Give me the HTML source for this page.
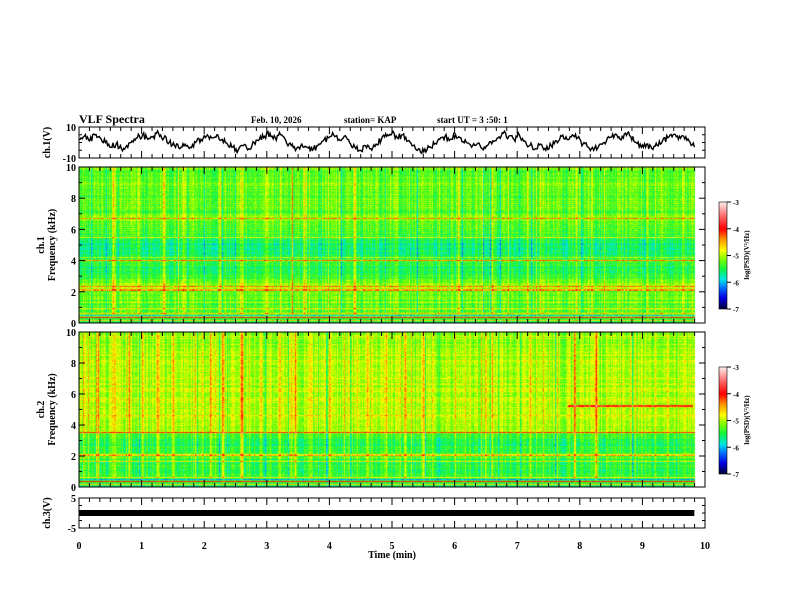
<!DOCTYPE html>
<html><head><meta charset="utf-8">
<style>
html,body{margin:0;padding:0;background:#fff;}
#root{position:relative;width:792px;height:612px;overflow:hidden;font-family:"Liberation Serif",serif;}
canvas{position:absolute;}
svg{position:absolute;left:0;top:0;}
</style></head>
<body>
<div id="root">
<canvas id="spec1" width="626" height="156" style="left:79px;top:167px;width:626px;height:156px"></canvas>
<canvas id="spec2" width="626" height="155" style="left:79px;top:332px;width:626px;height:155px"></canvas>
<canvas id="cb1" width="8" height="107" style="left:719px;top:202px;width:8px;height:107px"></canvas>
<canvas id="cb2" width="8" height="107" style="left:719px;top:367px;width:8px;height:107px"></canvas>
<svg id="svg" width="792" height="612" xmlns="http://www.w3.org/2000/svg"></svg>
</div>
<script>
// ---- data ----
const timeTicks = [0,1,2,3,4,5,6,7,8,9,10];
const freqTicks = [0,2,4,6,8,10];
const cbTicks = [-3,-4,-5,-6,-7];
const dataEndMin = 9.83;
const waveValues = [2,4,1,5,3,0,-3,-1,-4,-2,1,3,5,2,4,6,3,0,-2,-4,-1,-3,0,2,4,3,5,2,-1,-3,-5,-2,-4,0,2,4,6,3,5,1,-2,-4,-1,-3,-5,-2,1,3,5,2,4,0,-3,-5,-2,-4,-1,2,4,6,3,5,1,-2,-4,-6,-3,-1,2,4,2,5,3,0,-3,-1,-4,-2,1,3,6,4,2,5,1,-2,-4,-1,-5,-2,1,4,2,5,3,-1,-3,-5,-2,0,3,5,2,6,4,0,-3,-1,-4,-2,1,3,5,2,4,1,-3];
const ch3Value = 0;
const spec1Freq  = [0,0.3,0.5,1,1.5,2,2.2,2.4,2.6,3,3.5,4,4.5,5,5.5,6,6.5,6.7,7,8,9,10];
const spec1Level = [-5.6,-5.3,-5.2,-5.3,-5.3,-5.2,-5.0,-5.0,-5.2,-5.5,-5.55,-5.4,-5.65,-5.7,-5.4,-5.35,-5.3,-5.0,-5.3,-5.25,-5.25,-5.3];
const spec1LineFreq = [0.15,0.3,0.45,0.6,0.9,1.3,2.1,2.3,4.0,4.2,5.5,6.7];
const spec1LineAmp  = [0.9,1.4,-0.8,0.6,0.5,0.4,0.7,0.7,0.9,0.5,0.6,0.5];
const spec1SpikeTime = [0.55,0.95,1.35,1.7,2.25,2.6,3.0,3.4,3.6,4.4,5.05,5.75,6.05,6.6,7.15,7.4,8.2,9.0,9.3,9.65];
const spec1SpikeAmp  = [0.8,0.5,0.6,0.4,0.6,0.8,0.5,0.7,0.5,0.6,0.5,0.4,0.5,0.7,0.5,0.4,0.6,0.4,0.5,0.4];
const spec2Freq  = [0,0.3,0.6,1,1.5,2,2.5,3,3.4,3.6,4,5,6,7,8,9,10];
const spec2Level = [-5.6,-5.3,-5.5,-5.5,-5.5,-5.3,-5.5,-5.5,-5.4,-5.0,-5.0,-5.0,-5.0,-5.05,-5.05,-5.05,-5.05];
const spec2LineFreq = [0.15,0.3,0.45,0.6,1.6,2.0,2.1,3.5,4.6];
const spec2LineAmp  = [0.9,1.4,-0.8,0.6,0.5,0.8,0.6,1.0,0.4];
const spec2SpikeTime = [0.3,0.55,0.8,1.0,1.25,1.5,1.85,2.1,2.3,2.6,2.9,3.2,3.45,3.7,4.0,4.3,4.6,4.9,5.2,5.5,6.0,6.6,7.2,7.9,8.25,8.8,9.4];
const spec2SpikeAmp  = [0.5,0.8,0.5,0.6,0.5,0.7,0.5,0.6,0.7,0.8,0.5,0.6,0.7,0.5,0.6,0.5,0.5,0.6,0.5,0.4,0.4,0.6,0.4,0.7,0.5,0.4,0.4];
const spec2Band = {t0:7.8,t1:9.8,f:5.2,amp:1.0};

// ---- geometry ----
const X0=79,X1=705;
const xs = t => X0 + t/10*(X1-X0);
const NS='http://www.w3.org/2000/svg';
const svg=document.getElementById('svg');
function el(tag,attrs,parent){const e=document.createElementNS(NS,tag);for(const k in attrs)e.setAttribute(k,attrs[k]);(parent||svg).appendChild(e);return e;}
function txt(x,y,s,size,anchor,rot){const t=el('text',{x:x,y:y,'font-size':size,'font-weight':'bold','font-family':'Liberation Serif, serif','text-anchor':anchor||'start'});if(rot)t.setAttribute('transform',`rotate(${rot} ${x} ${y})`);t.textContent=s;return t;}

// ---- colormap ----
const cmapV=[-7,-6.6,-6.2,-5.9,-5.5,-5.1,-4.8,-4.4,-4.0,-3.5,-3.0];
const cmapC=[[0,0,60],[0,0,230],[0,120,255],[0,230,230],[20,245,60],[140,255,0],[255,255,0],[255,150,0],[255,0,0],[255,110,110],[255,235,235]];
function cmap(v){if(v<=cmapV[0])return cmapC[0];for(let i=1;i<cmapV.length;i++){if(v<=cmapV[i]){const f=(v-cmapV[i-1])/(cmapV[i]-cmapV[i-1]);const a=cmapC[i-1],b=cmapC[i];return [a[0]+(b[0]-a[0])*f,a[1]+(b[1]-a[1])*f,a[2]+(b[2]-a[2])*f];}}return cmapC[cmapC.length-1];}
function hash(a,b){let h=(a*374761393+b*668265263)|0;h=(h^(h>>>13))*1274126177|0;h=h^(h>>>16);return ((h>>>0)%10000)/10000;}
function interp(xa,ya,x){for(let i=1;i<xa.length;i++){if(x<=xa[i]){const f=(x-xa[i-1])/(xa[i]-xa[i-1]);return ya[i-1]+(ya[i]-ya[i-1])*f;}}return ya[ya.length-1];}

function drawSpec(id,fq,lv,lf,la,st,sa,band,seed){
  const c=document.getElementById(id),ctx=c.getContext('2d'),W=c.width,H=c.height;
  const img=ctx.createImageData(W,H);
  const rowOff=[];for(let y=0;y<H;y++)rowOff.push((hash(y,seed*3)-0.5)*0.3);
  for(let x=0;x<W;x++){
    const t=x/(W)*10;
    if(t>dataEndMin){for(let y=0;y<H;y++){const k=(y*W+x)*4;img.data[k]=img.data[k+1]=img.data[k+2]=img.data[k+3]=255;}continue;}
    let colOff=(hash(x,seed)-0.5)*0.4;
    const hc=hash(x+5,seed+9);
    if(hc>0.93)colOff+=0.35; else if(hc<0.05)colOff-=0.4;
    let spike=0;for(let i=0;i<st.length;i++){const d=Math.abs(t-st[i]);if(d<0.009)spike=Math.max(spike,sa[i]);else if(d<0.03)spike=Math.max(spike,sa[i]*0.35);}
    for(let y=0;y<H;y++){
      const f=10*(1-y/(H-1));
      let v=interp(fq,lv,f)+colOff*(f>0.6?1:0.3)+rowOff[y];
      for(let i=0;i<lf.length;i++){if(Math.abs(f-lf[i])<0.04)v+=la[i];}
      if(band&&t>=band.t0&&t<=band.t1&&Math.abs(f-band.f)<0.06)v+=band.amp;
      if(f>0.5)v+=spike*(0.7+0.3*hash(y,x+seed));
      v+=(hash(x*7+seed,y*13)-0.5)*0.35;
      const col=cmap(v),k=(y*W+x)*4;
      img.data[k]=col[0];img.data[k+1]=col[1];img.data[k+2]=col[2];img.data[k+3]=255;
    }
  }
  ctx.putImageData(img,0,0);
}
drawSpec('spec1',spec1Freq,spec1Level,spec1LineFreq,spec1LineAmp,spec1SpikeTime,spec1SpikeAmp,null,11);
drawSpec('spec2',spec2Freq,spec2Level,spec2LineFreq,spec2LineAmp,spec2SpikeTime,spec2SpikeAmp,spec2Band,37);
['cb1','cb2'].forEach(id=>{const c=document.getElementById(id),ctx=c.getContext('2d');for(let y=0;y<c.height;y++){const v=-3-4*y/(c.height-1);const col=cmap(v);ctx.fillStyle=`rgb(${col[0]|0},${col[1]|0},${col[2]|0})`;ctx.fillRect(0,y,c.width,1);}});

// ---- header ----
let e;
e=txt(79,123,'VLF Spectra',12);
e=txt(251,123,'Feb. 10, 2026',9);
e=txt(344,123,'station= KAP',9);
e=txt(437,123,'start  UT =  3  :50: 1',9);

// ---- panels ----
const panels=[
 {name:'ch1-waveform-panel',top:127,bot:158,yt:[[10,'10'],[-10,'-10']],ymin:-10,ymax:10,ylab:['ch.1(V)'],minorY:[-5,0,5]},
 {name:'ch1-spectrogram-panel',top:167,bot:323,yt:freqTicks.map(v=>[v,String(v)]),ymin:0,ymax:10,ylab:['ch.1','Frequency (kHz)'],minorY:[1,3,5,7,9]},
 {name:'ch2-spectrogram-panel',top:332,bot:487,yt:freqTicks.map(v=>[v,String(v)]),ymin:0,ymax:10,ylab:['ch.2','Frequency (kHz)'],minorY:[1,3,5,7,9]},
 {name:'ch3-panel',top:498,bot:528,yt:[[5,'5'],[-5,'-5']],ymin:-5,ymax:5,ylab:['ch.3(V)'],minorY:[-2.5,0,2.5]}
];
panels.forEach((p,pi)=>{
  const g=el('g',{});
  
  
  const ys=v=>p.bot-(v-p.ymin)/(p.ymax-p.ymin)*(p.bot-p.top);
  p.ys=ys;
  el('rect',{x:X0,y:p.top,width:X1-X0,height:p.bot-p.top,fill:'none',stroke:'#000','stroke-width':1},g);
  for(let m=0;m<=60;m++){const x=xs(m/6);const L=(m%6===0)?7:4;
    el('line',{x1:x,y1:p.top,x2:x,y2:p.top+L,stroke:'#000','stroke-width':1},g);
    el('line',{x1:x,y1:p.bot,x2:x,y2:p.bot-L,stroke:'#000','stroke-width':1},g);}
  p.yt.forEach(([v,s])=>{const y=ys(v);
    el('line',{x1:X0,y1:y,x2:X0+6,y2:y,stroke:'#000'},g);el('line',{x1:X1,y1:y,x2:X1-6,y2:y,stroke:'#000'},g);
    const t=txt(X0-3,y+4,s,10,'end');g.appendChild(t);});
  p.minorY.forEach(v=>{const y=ys(v);el('line',{x1:X0,y1:y,x2:X0+3,y2:y,stroke:'#000'},g);el('line',{x1:X1,y1:y,x2:X1-3,y2:y,stroke:'#000'},g);});
  const cy=(p.top+p.bot)/2;
  if(p.ylab.length===1){const t=txt(50,cy,p.ylab[0],10,'middle',-90);g.appendChild(t);}
  else{g.appendChild(txt(44,cy,p.ylab[0],10,'middle',-90));g.appendChild(txt(55,cy,p.ylab[1],10,'middle',-90));}
});

// waveform
{const p=panels[0];const n=waveValues.length;let d='';const sub=5;
 for(let i=0;i<n-1;i++){for(let s=0;s<sub;s++){const f=s/sub;const v=waveValues[i]+(waveValues[i+1]-waveValues[i])*f+(s?(hash(i,s)-0.5)*4:0);
   const x=xs((i+f)/(n-1)*dataEndMin);d+=(d?'L':'M')+x.toFixed(1)+' '+p.ys(Math.max(-10,Math.min(10,v))).toFixed(1);}}
 d+='L'+xs(dataEndMin).toFixed(1)+' '+p.ys(waveValues[n-1]).toFixed(1);
 const path=el('path',{d:d,fill:'none',stroke:'#000','stroke-width':1.4});
 }
// ch3 bar
{const p=panels[3];const y=p.ys(ch3Value);
 const r=el('rect',{x:X0,y:y-3,width:xs(dataEndMin)-X0,height:6,fill:'#000'});
 }

// time axis labels
timeTicks.forEach(t=>{const l=txt(xs(t),549,String(t),10,'middle');});
e=txt(392,558,'Time  (min)',10,'middle');

// colorbars
[[202,'colorbar-ch1-axis'],[367,'colorbar-ch2-axis']].forEach(([top,name])=>{
  const g=el('g',{});
  el('rect',{x:719,y:top,width:8,height:107,fill:'none',stroke:'#000','stroke-width':0.6},g);
  cbTicks.forEach(v=>{const y=top+(-3-v)/4*107;el('line',{x1:727,y1:y,x2:731,y2:y,stroke:'#000'},g);g.appendChild(txt(733,y+3,String(v),7,'start'));});
  const lt=txt(749,top+53,'log(PSD)(V²/Hz)',7,'middle',-90);g.appendChild(lt);
});
</script>
</body></html>
